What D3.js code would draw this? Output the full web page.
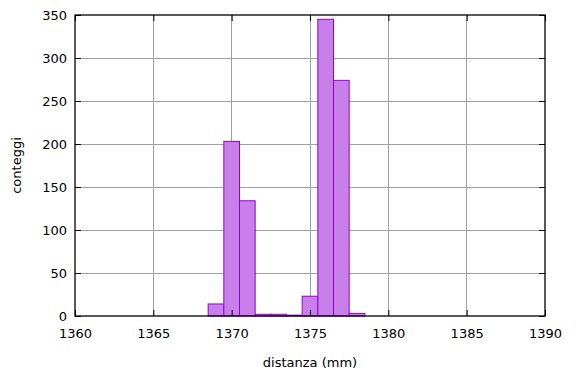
<!DOCTYPE html>
<html><head><meta charset="utf-8">
<script src="https://cdn.jsdelivr.net/npm/d3@7"></script>
<style>body{margin:0;background:#fff}svg{display:block}text{font-family:"DejaVu Sans",Verdana,sans-serif;font-size:13px;fill:#000}</style>
</head><body><svg id="c" width="576" height="374"></svg>
<script>
const binCenters = [1369, 1370, 1371, 1372, 1373, 1374, 1375, 1376, 1377, 1378];
const counts = [14, 203, 134, 2, 2, 1, 23, 345, 274, 3];
const binWidth = 1;
const xTicks = [1360, 1365, 1370, 1375, 1380, 1385, 1390];
const yTicks = [0, 50, 100, 150, 200, 250, 300, 350];

const svg = d3.select("#c");
const L = 75, R = 545, T = 15, B = 316;
const x = d3.scaleLinear().domain([1360, 1390]).range([L, R]);
const y = d3.scaleLinear().domain([0, 350]).range([B, T]);

// grid
svg.append("g").selectAll("line").data(xTicks.slice(1, -1)).join("line")
  .attr("x1", d => x(d)).attr("x2", d => x(d)).attr("y1", T).attr("y2", B)
  .attr("stroke", "#a0a0a0").attr("stroke-width", 1).attr("shape-rendering", "crispEdges");
svg.append("g").selectAll("line").data(yTicks.slice(1, -1)).join("line")
  .attr("y1", d => y(d)).attr("y2", d => y(d)).attr("x1", L).attr("x2", R)
  .attr("stroke", "#a0a0a0").attr("stroke-width", 1).attr("shape-rendering", "crispEdges");

// bars
svg.append("g").selectAll("rect").data(binCenters).join("rect")
  .attr("x", d => x(d - binWidth / 2)).attr("width", d => x(d + binWidth / 2) - x(d - binWidth / 2))
  .attr("y", (d, i) => y(counts[i])).attr("height", (d, i) => y(0) - y(counts[i]))
  .attr("fill", "#c97fe9").attr("stroke", "#9400d3").attr("stroke-width", 1);

// axes with inward ticks (mirrored)
const ax = svg.append("g");
ax.append("g").attr("transform", `translate(0,${B})`)
  .call(d3.axisBottom(x).tickValues(xTicks).tickSizeInner(-6).tickSizeOuter(0).tickPadding(13).tickFormat(d3.format("d")));
ax.append("g").attr("transform", `translate(0,${T})`)
  .call(d3.axisTop(x).tickValues(xTicks).tickSizeInner(-6).tickSizeOuter(0).tickFormat(""));
ax.append("g").attr("transform", `translate(${L},0)`)
  .call(d3.axisLeft(y).tickValues(yTicks).tickSizeInner(-6).tickSizeOuter(0).tickPadding(8).tickFormat(d3.format("d")));
ax.append("g").attr("transform", `translate(${R},0)`)
  .call(d3.axisRight(y).tickValues(yTicks).tickSizeInner(-6).tickSizeOuter(0).tickFormat(""));
ax.selectAll(".domain").remove();
ax.selectAll(".tick line").attr("stroke", "#000");
ax.selectAll("text").style("font-family", '"DejaVu Sans",Verdana,sans-serif').style("font-size", "13px");

// frame
svg.append("rect").attr("x", L).attr("y", T).attr("width", R - L).attr("height", B - T)
  .attr("fill", "none").attr("stroke", "#000").attr("stroke-width", 1.3);

svg.append("text").attr("x", (L + R) / 2).attr("y", 367).attr("text-anchor", "middle").text("distanza (mm)");
svg.append("text").attr("transform", `translate(21,${(T + B) / 2}) rotate(-90)`).attr("text-anchor", "middle").text("conteggi");
</script></body></html>
